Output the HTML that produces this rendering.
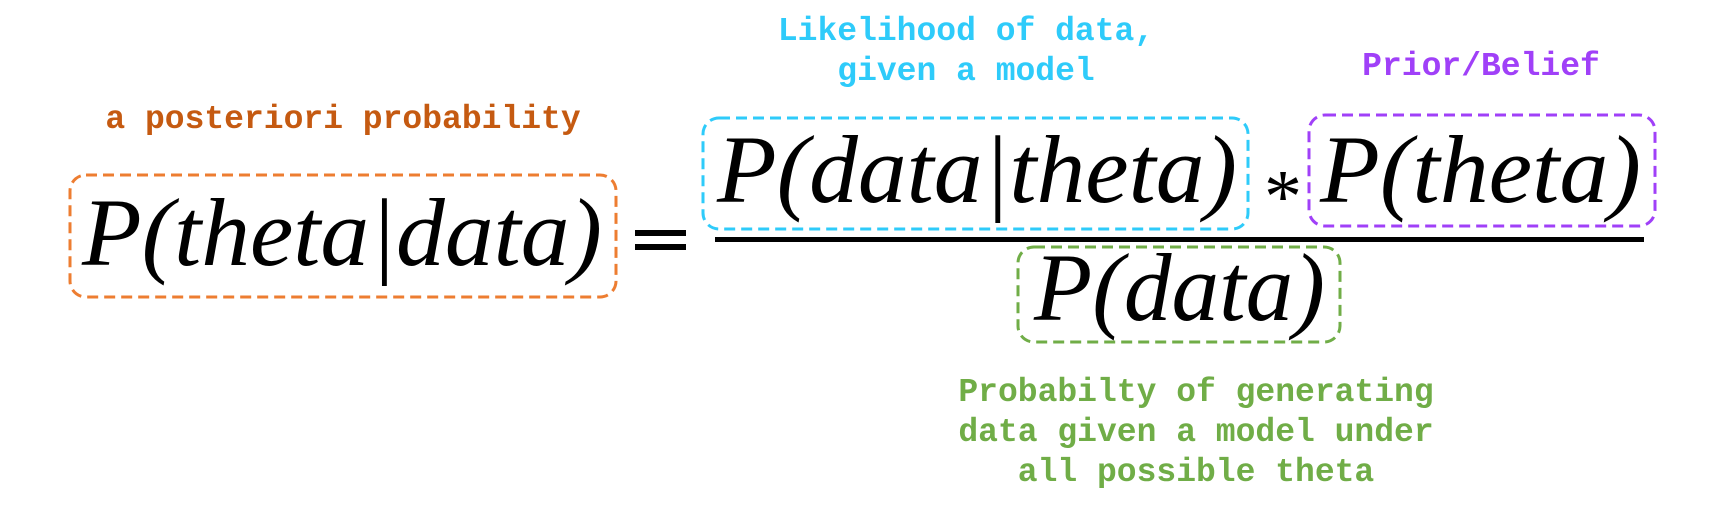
<!DOCTYPE html>
<html><head><meta charset="utf-8"><style>
html,body{margin:0;padding:0;background:#fff;}
svg{display:block;}
.lbl{font-family:"Liberation Mono","Courier New",monospace;font-weight:bold;font-size:33px;}
.m{font-family:"Liberation Serif",serif;font-style:italic;font-size:96px;fill:#000;}
</style></head><body>
<svg width="1725" height="510" viewBox="0 0 1725 510" xmlns="http://www.w3.org/2000/svg">
<g fill="none" stroke-width="3" stroke-dasharray="11 6">
<rect x="70" y="175" width="546" height="122" rx="16" stroke="#ed7d31"/>
<rect x="703" y="118" width="545" height="111" rx="16" stroke="#2ecbfa"/>
<rect x="1309" y="115" width="346" height="111" rx="16" stroke="#a040f8"/>
<rect x="1018" y="247" width="322" height="95" rx="16" stroke="#70ad47"/>
</g>
<rect x="715" y="237" width="929" height="5" fill="#000"/>
<rect x="635" y="230" width="51" height="6" fill="#000"/>
<rect x="635" y="244" width="51" height="6" fill="#000"/>
<text class="m" x="82" y="265" textLength="520" lengthAdjust="spacingAndGlyphs">P(theta|data)</text>
<text class="m" x="717" y="202" textLength="520" lengthAdjust="spacingAndGlyphs">P(data|theta)</text>
<text class="m" x="1264" y="222" style="font-style:normal;font-size:76px">*</text>
<text class="m" x="1320" y="202" textLength="321" lengthAdjust="spacingAndGlyphs">P(theta)</text>
<text class="m" x="1034" y="320" textLength="291" lengthAdjust="spacingAndGlyphs">P(data)</text>
<g class="lbl" text-anchor="middle">
<text x="343" y="128" fill="#c55a11">a posteriori probability</text>
<text x="966" y="40" fill="#2ecbfa">Likelihood of data,</text>
<text x="966" y="80" fill="#2ecbfa">given a model</text>
<text x="1481" y="75" fill="#a040f8">Prior/Belief</text>
<text x="1196" y="401" fill="#70ad47">Probabilty of generating</text>
<text x="1196" y="441" fill="#70ad47">data given a model under</text>
<text x="1196" y="481" fill="#70ad47">all possible theta</text>
</g>
</svg>
</body></html>
